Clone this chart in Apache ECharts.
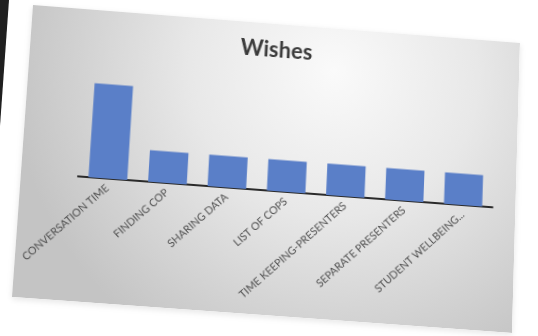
<!DOCTYPE html>
<html>
<head>
<meta charset="utf-8">
<script src="https://cdn.jsdelivr.net/npm/echarts@6/dist/echarts.min.js"></script>
<style>
  html, body { margin: 0; padding: 0; width: 538px; height: 336px; overflow: hidden; background: #ffffff; }
  #strip { position: absolute; left: 0; top: 0; width: 12px; height: 130px; background: #1f1f1f;
           clip-path: polygon(0 0, 9px 0, 0 126px); }
  #chart { position: absolute; left: 0; top: 0; width: 490px; height: 292px; transform-origin: 0 0;
           box-shadow: 0 2px 6px rgba(0,0,0,0.10); }
</style>
</head>
<body>
<div id="strip"></div>
<div id="chart"></div>
<script>
// ---- data ----
var titleText = 'Wishes';
var categories = ['CONVERSATION TIME', 'FINDING COP', 'SHARING DATA', 'LIST OF COPS',
                  'TIME KEEPING-PRESENTERS', 'SEPARATE PRESENTERS', 'STUDENT WELLBEING...'];
var values = [9, 3, 3, 3, 3, 3, 3];

// ---- photo perspective (slide corners in the picture) ----
var W = 490, H = 292;
var quad = [[33, 5], [520, 43], [12, 297], [512, 333]]; // TL, TR, BL, BR

function adj(m) {
  return [m[4]*m[8]-m[5]*m[7], m[2]*m[7]-m[1]*m[8], m[1]*m[5]-m[2]*m[4],
          m[5]*m[6]-m[3]*m[8], m[0]*m[8]-m[2]*m[6], m[2]*m[3]-m[0]*m[5],
          m[3]*m[7]-m[4]*m[6], m[1]*m[6]-m[0]*m[7], m[0]*m[4]-m[1]*m[3]];
}
function mm(a, b) {
  var c = [];
  for (var i = 0; i < 3; i++) for (var j = 0; j < 3; j++) {
    var s = 0; for (var k = 0; k < 3; k++) s += a[3*i+k] * b[3*k+j]; c[3*i+j] = s;
  }
  return c;
}
function mv(m, v) {
  return [m[0]*v[0]+m[1]*v[1]+m[2]*v[2], m[3]*v[0]+m[4]*v[1]+m[5]*v[2], m[6]*v[0]+m[7]*v[1]+m[8]*v[2]];
}
function basis(p) {
  var m = [p[0][0], p[1][0], p[2][0], p[0][1], p[1][1], p[2][1], 1, 1, 1];
  var v = mv(adj(m), [p[3][0], p[3][1], 1]);
  return mm(m, [v[0], 0, 0, 0, v[1], 0, 0, 0, v[2]]);
}
var src = [[0, 0], [W, 0], [0, H], [W, H]];
var t = mm(basis(quad), adj(basis(src)));
for (var i = 0; i < 9; i++) t[i] = t[i] / t[8];
var m3d = [t[0], t[3], 0, t[6], t[1], t[4], 0, t[7], 0, 0, 1, 0, t[2], t[5], 0, t[8]];
document.getElementById('chart').style.transform = 'matrix3d(' + m3d.join(',') + ')';

var chart = echarts.init(document.getElementById('chart'), null, { renderer: 'canvas' });
chart.setOption({
  animation: false,
  backgroundColor: {
    type: 'radial', x: 0.62, y: 0.15, r: 1.1,
    colorStops: [
      { offset: 0, color: '#fafafa' },
      { offset: 0.45, color: '#e8e8e8' },
      { offset: 1, color: '#c4c4c4' }
    ]
  },
  title: {
    text: titleText, left: 'center', top: 11,
    textStyle: { fontFamily: 'Lato', fontWeight: 'bold', fontSize: 22, color: '#3b3b3b' }
  },
  grid: { left: 56, right: 23, top: 64, bottom: 123, containLabel: false },
  xAxis: {
    type: 'category', data: categories,
    axisLine: { show: true, lineStyle: { color: '#2a2a2a', width: 2 } },
    axisTick: { show: false },
    axisLabel: { rotate: 45, interval: 0, fontFamily: 'Lato', fontSize: 10.5, color: '#4f4f4f', margin: 8 }
  },
  yAxis: { type: 'value', min: 0, max: 10, show: false, splitLine: { show: false } },
  series: [{
    type: 'bar', data: values, barCategoryGap: '35%',
    itemStyle: { color: '#5a7fc8' }
  }]
});
</script>
</body>
</html>
